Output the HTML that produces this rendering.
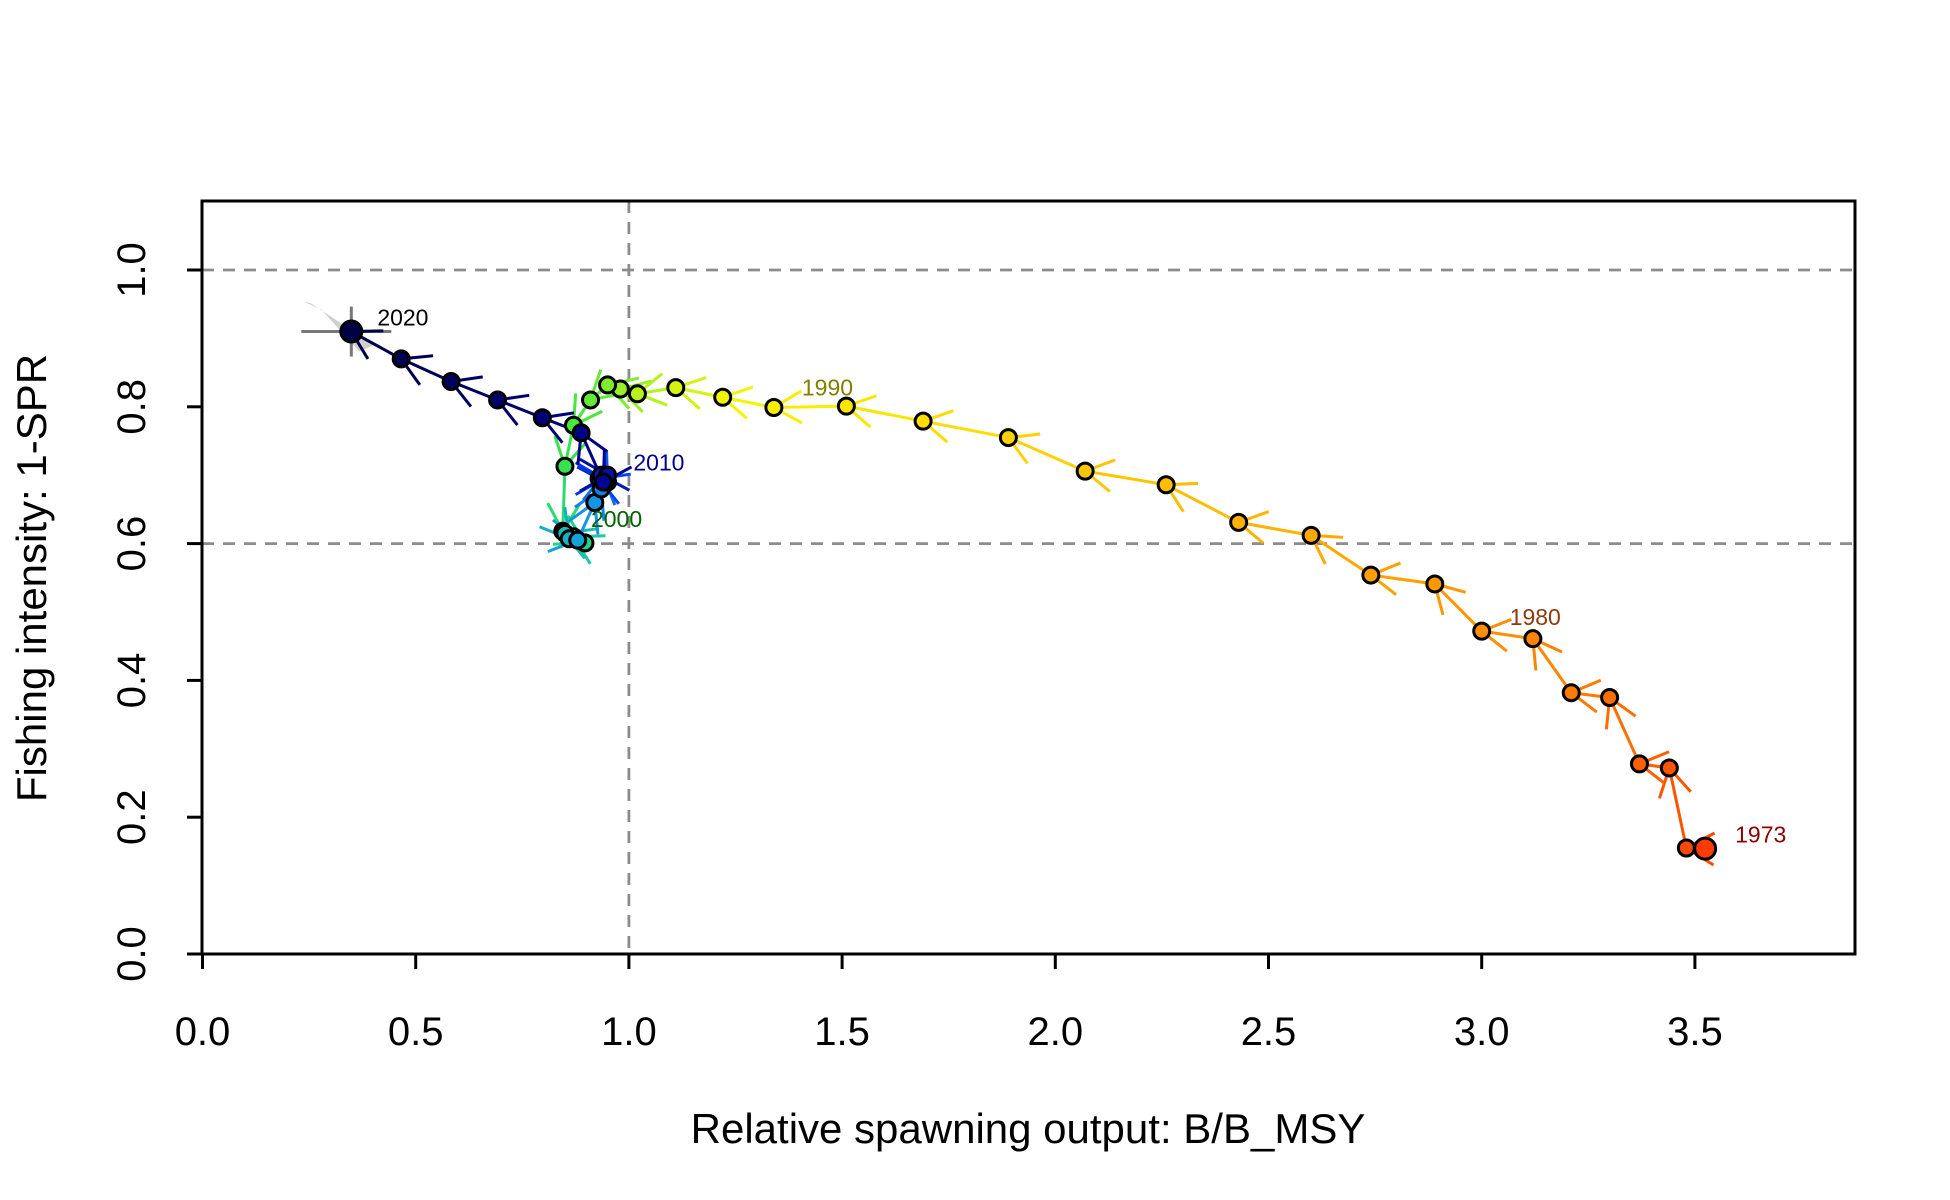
<!DOCTYPE html>
<html><head><meta charset="utf-8"><style>
html,body{margin:0;padding:0;background:#fff;}
svg{display:block;font-family:"Liberation Sans",Arial,sans-serif;}
</style></head><body>
<svg id="chart" width="1950" height="1200" viewBox="0 0 1950 1200" xmlns="http://www.w3.org/2000/svg">
<rect width="1950" height="1200" fill="#fff"/>
<g id="grid"></g><g id="series"></g><g id="axes"></g>
</svg>
<script>
const years=[1973,1974,1975,1976,1977,1978,1979,1980,1981,1982,1983,1984,1985,1986,1987,1988,1989,1990,1991,1992,1993,1994,1995,1996,1997,1998,1999,2000,2001,2002,2003,2004,2005,2006,2007,2008,2009,2010,2011,2012,2013,2014,2015,2016,2017,2018,2019,2020];
const bratio=[3.524,3.48,3.44,3.37,3.30,3.21,3.12,3.00,2.89,2.74,2.60,2.43,2.26,2.07,1.89,1.69,1.51,1.34,1.22,1.11,1.02,0.98,0.95,0.91,0.87,0.85,0.845,0.897,0.87,0.85,0.86,0.88,0.92,0.935,0.94,0.95,0.93,0.94,0.945,0.935,0.95,0.94,0.888,0.797,0.692,0.583,0.466,0.349];
const spr=[0.154,0.155,0.272,0.278,0.375,0.382,0.461,0.472,0.541,0.554,0.612,0.631,0.686,0.706,0.755,0.779,0.801,0.799,0.814,0.828,0.819,0.826,0.832,0.810,0.773,0.713,0.618,0.601,0.61,0.615,0.607,0.605,0.66,0.68,0.70,0.69,0.695,0.695,0.69,0.70,0.70,0.69,0.762,0.784,0.810,0.837,0.870,0.910];
const xTicks=[0,0.5,1,1.5,2,2.5,3,3.5];
const xTickLabels=["0.0","0.5","1.0","1.5","2.0","2.5","3.0","3.5"];
const yTicks=[0,0.2,0.4,0.6,0.8,1.0];
const yTickLabels=["0.0","0.2","0.4","0.6","0.8","1.0"];
const refX=[1.0];
const refY=[0.6,1.0];
const labelYears=[1973,1980,1990,2000,2010,2020];

const L=202,R=1855,T=201,B=954;
const X=v=>202.5+v*426.4;
const Y=v=>954-v*684;
const NS="http://www.w3.org/2000/svg";
function mk(tag,attrs,parent){const e=document.createElementNS(NS,tag);for(const k in attrs)e.setAttribute(k,attrs[k]);parent.appendChild(e);return e;}
const grid=document.getElementById('grid'),ser=document.getElementById('series'),ax=document.getElementById('axes');

refY.forEach(v=>{const l=mk('line',{x1:L,x2:R,y1:Y(v),y2:Y(v),stroke:'#8c8c8c','stroke-width':2.8,'stroke-dasharray':'12,9'},grid);

});
refX.forEach(v=>{const l=mk('line',{x1:X(v),x2:X(v),y1:T,y2:B,stroke:'#8c8c8c','stroke-width':2.8,'stroke-dasharray':'12,9'},grid);

});

const stops=[[0,[255,60,0]],[0.12,[255,130,0]],[0.25,[255,185,0]],[0.33,[255,225,0]],[0.38,[245,245,0]],[0.45,[150,240,40]],[0.52,[60,230,60]],[0.58,[30,210,150]],[0.68,[20,150,230]],[0.78,[0,60,240]],[0.88,[0,0,140]],[1,[0,0,70]]];
function col(t){for(let i=1;i<stops.length;i++){if(t<=stops[i][0]){const a=stops[i-1],b=stops[i];const f=(t-a[0])/(b[0]-a[0]);const c=a[1].map((v,k)=>Math.round(v+(b[1][k]-v)*f));return `rgb(${c[0]},${c[1]},${c[2]})`;}}return 'rgb(0,0,70)';}
const n=years.length;

const lx=X(bratio[n-1]),ly=Y(spr[n-1]);
const cone=mk('polygon',{points:`${lx-48},${ly-30} ${lx-30},${ly-22} ${lx+8},${ly+20} ${lx+22},${ly+14} ${lx-10},${ly-8} ${lx-40},${ly-28}`,fill:'#cfcfcf'},ser);


const c1=mk('line',{x1:lx-50,x2:lx+40,y1:ly,y2:ly,stroke:'#777','stroke-width':3},ser);


const c2=mk('line',{x1:lx,x2:lx,y1:ly-25,y2:ly+25,stroke:'#777','stroke-width':3},ser);



for(let i=1;i<n;i++){
  const x0=X(bratio[i-1]),y0=Y(spr[i-1]),x1=X(bratio[i]),y1=Y(spr[i]);
  const c=col(i/(n-1));
  const g=mk('g',{},ser);
  
  
  mk('line',{x1:x0,y1:y0,x2:x1,y2:y1,stroke:c,'stroke-width':3},g);
  const ang=Math.atan2(y1-y0,x1-x0),h=32;
  [Math.PI/6,-Math.PI/6].forEach(d=>{
    mk('line',{x1:x1,y1:y1,x2:x1-h*Math.cos(ang+d),y2:y1-h*Math.sin(ang+d),stroke:c,'stroke-width':3},g);
  });
}
for(let i=0;i<n;i++){
  const big=(i===0||i===n-1);
  const p=mk('circle',{cx:X(bratio[i]),cy:Y(spr[i]),r:big?10.5:8,fill:col(i/(n-1)),stroke:'#000','stroke-width':3},ser);
  
  
}
const labColors={1973:'#8b0000',1980:'#8b3a0f',1990:'#808000',2000:'#006400',2010:'#00008b',2020:'#000'};
const labOff={1973:[30,-6],1980:[28,-6],1990:[28,-12],2000:[6,-16],2010:[30,-8],2020:[26,-6]};
labelYears.forEach(yr=>{const i=years.indexOf(yr);
  const t=mk('text',{x:X(bratio[i])+labOff[yr][0],y:Y(spr[i])+labOff[yr][1],'font-size':23,fill:labColors[yr]},ser);
  t.textContent=String(yr);
  
  });

const box=mk('rect',{x:L,y:T,width:R-L,height:B-T,fill:'none',stroke:'#000','stroke-width':3},ax);


const xa=mk('line',{x1:X(0),x2:X(3.5),y1:B,y2:B,stroke:'#000','stroke-width':3},ax);


xTicks.forEach((v,i)=>{mk('line',{x1:X(v),x2:X(v),y1:B,y2:B+15,stroke:'#000','stroke-width':3},ax);
  const t=mk('text',{x:X(v),y:1045,'font-size':40,'text-anchor':'middle'},ax);t.textContent=xTickLabels[i];
  
  });
yTicks.forEach((v,i)=>{mk('line',{x1:L,x2:L-15,y1:Y(v),y2:Y(v),stroke:'#000','stroke-width':3},ax);
  const t=mk('text',{x:0,y:0,'font-size':40,'text-anchor':'middle',transform:`translate(145,${Y(v)}) rotate(-90)`},ax);t.textContent=yTickLabels[i];
  
  });
const xt=mk('text',{x:1028,y:1143,'font-size':42,'text-anchor':'middle'},ax);xt.textContent='Relative spawning output: B/B_MSY';


const yt=mk('text',{x:0,y:0,'font-size':42,'text-anchor':'middle',transform:'translate(46,578) rotate(-90)'},ax);yt.textContent='Fishing intensity: 1-SPR';


</script>
</body></html>
